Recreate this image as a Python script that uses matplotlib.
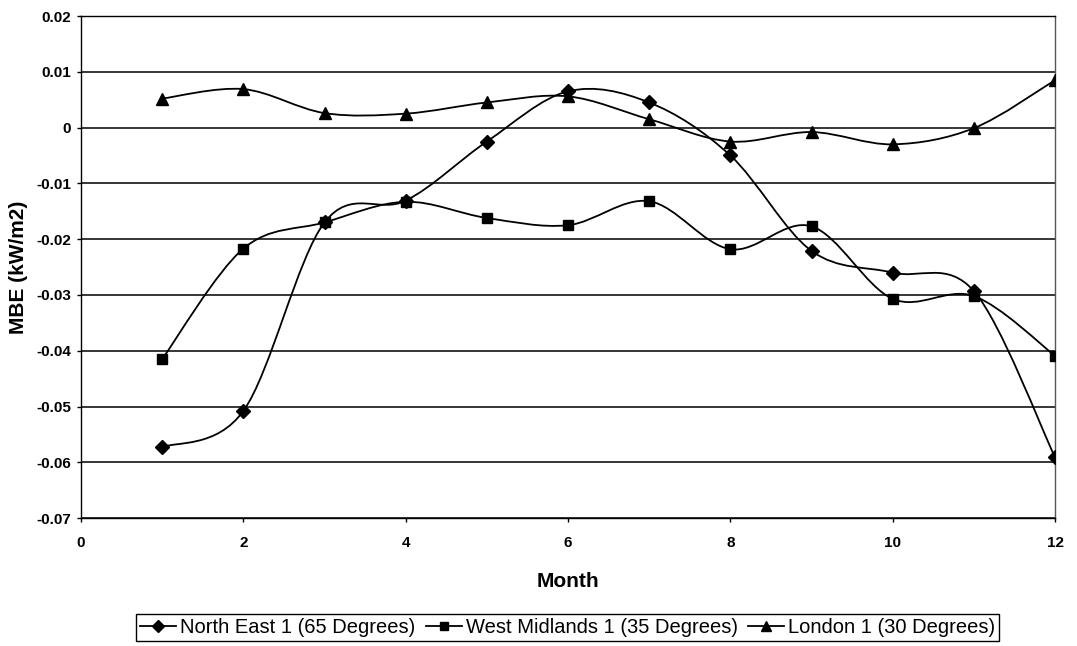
import matplotlib
matplotlib.use('agg')

from matplotlib import pyplot as plt
from matplotlib.path import Path
from matplotlib.patches import PathPatch
from matplotlib.ticker import FuncFormatter
import numpy as np

plt.rcParams['font.family'] = ['Liberation Sans', 'DejaVu Sans']

months = [1, 2, 3, 4, 5, 6, 7, 8, 9, 10, 11, 12]
north_east = [-0.0573, -0.0508, -0.0170, -0.0131, -0.0025, 0.0065, 0.0045, -0.0050, -0.0221, -0.0260, -0.0293, -0.0591]
west_midlands = [-0.0415, -0.0217, -0.0170, -0.0133, -0.0162, -0.0175, -0.0132, -0.0218, -0.0177, -0.0307, -0.0302, -0.0409]
london = [0.0052, 0.0069, 0.0026, 0.0025, 0.0045, 0.0056, 0.0015, -0.0025, -0.0008, -0.0030, -0.0001, 0.0085]

series = [
    ("North East 1 (65 Degrees)", north_east, "D", 7),
    ("West Midlands 1 (35 Degrees)", west_midlands, "s", 7),
    ("London 1 (30 Degrees)", london, "^", 8),
]


def smooth_path(x, y):
    # excel-like smoothed line: cubic bezier through the points
    x = np.asarray(x, float)
    y = np.asarray(y, float)
    px = np.concatenate([[x[0]], x, [x[-1]]])
    py = np.concatenate([[y[0]], y, [y[-1]]])
    verts = [(x[0], y[0])]
    codes = [Path.MOVETO]
    for i in range(len(x) - 1):
        c1 = (x[i] + (px[i + 2] - px[i]) / 6, y[i] + (py[i + 2] - py[i]) / 6)
        c2 = (x[i + 1] - (px[i + 3] - px[i + 1]) / 6, y[i + 1] - (py[i + 3] - py[i + 1]) / 6)
        verts += [c1, c2, (x[i + 1], y[i + 1])]
        codes += [Path.CURVE4] * 3
    return Path(verts, codes)


fig = plt.figure(figsize=(10.77, 6.46), dpi=100)
ax = fig.add_axes([0.0752, 0.198, 0.9044, 0.7772])

handles = []
for label, values, marker, size in series:
    patch = PathPatch(smooth_path(months, values), facecolor='none', edgecolor='black', lw=1.3, zorder=3)
    ax.add_patch(patch)
    ax.plot(months, values, linestyle='none', marker=marker, markersize=size, color='black', zorder=4)
    hl, = ax.plot([], [], color='black', lw=1.3, marker=marker, markersize=size - 1, label=label)
    handles.append(hl)

ax.set_xlim(0, 12)
ax.set_ylim(-0.07, 0.02)
ax.set_xticks(range(0, 13, 2))
ax.set_yticks(np.arange(-0.07, 0.0201, 0.01))
ax.yaxis.set_major_formatter(FuncFormatter(lambda v, p: f"{round(v, 3):g}" if abs(v) > 1e-9 else "0"))
ax.grid(axis='y', color='black', lw=1.1)
ax.set_axisbelow(True)

for side in ["left", "top", "right", "bottom"]:
    ax.spines[side].set_color('black')
    ax.spines[side].set_linewidth(1.0)
ax.spines["right"].set_color('#555555')

ax.tick_params(axis='both', direction='out', length=3, width=1, labelsize=11)
ax.tick_params(axis='x', pad=10)
ax.tick_params(axis='y', pad=4)
for t in ax.get_xticklabels() + ax.get_yticklabels():
    t.set_fontweight('bold')

ax.set_xlabel("Month", fontsize=15, fontweight='bold', labelpad=16)
ax.set_ylabel("MBE (kW/m2)", fontsize=15, fontweight='bold', labelpad=6)

fig.legend(handles=handles, loc='lower center', bbox_to_anchor=(0.527, -0.008), ncol=3,
           fontsize=14.5, frameon=True, fancybox=False, edgecolor='black', framealpha=1,
           handlelength=1.8, handletextpad=0.2, columnspacing=0.5, borderpad=0.2)

plt.savefig('out.png', dpi=100)
